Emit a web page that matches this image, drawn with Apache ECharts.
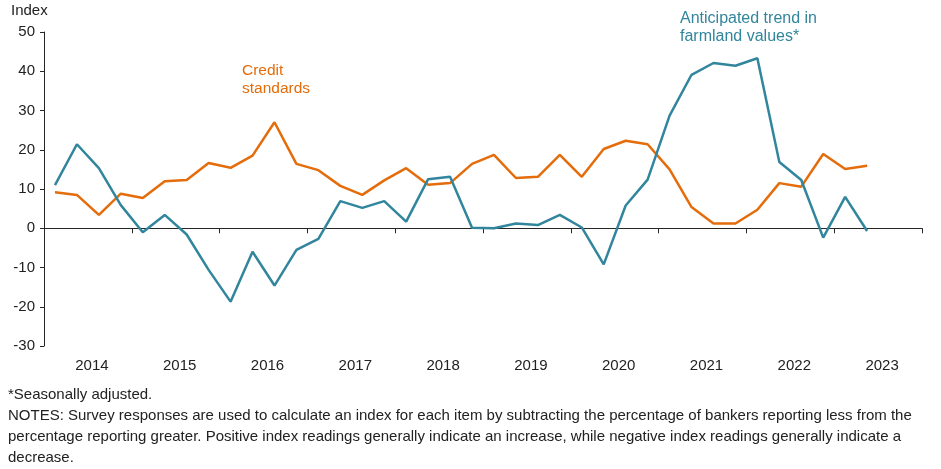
<!DOCTYPE html>
<html>
<head>
<meta charset="utf-8">
<script src="https://cdn.jsdelivr.net/npm/echarts@6/dist/echarts.min.js"></script>
<style>
  html, body { margin: 0; padding: 0; background: #fff; }
  #chart { width: 941px; height: 469px; }
</style>
</head>
<body>
<div id="chart"></div>
<script>
// quarterly categories, 2014 Q1 .. 2023 Q4
const quarters = [
    '2014Q1','2014Q2','2014Q3','2014Q4','2015Q1','2015Q2','2015Q3','2015Q4',
    '2016Q1','2016Q2','2016Q3','2016Q4','2017Q1','2017Q2','2017Q3','2017Q4',
    '2018Q1','2018Q2','2018Q3','2018Q4','2019Q1','2019Q2','2019Q3','2019Q4',
    '2020Q1','2020Q2','2020Q3','2020Q4','2021Q1','2021Q2','2021Q3','2021Q4',
    '2022Q1','2022Q2','2022Q3','2022Q4','2023Q1','2023Q2','2023Q3','2023Q4'
]
const years = ['2014','2015','2016','2017','2018','2019','2020','2021','2022','2023']
const yTicks = [-30, -20, -10, 0, 10, 20, 30, 40, 50]

const creditStandards = [
    9.2, 8.5, 3.4, 8.8, 7.7, 12.0, 12.3, 16.6, 15.4, 18.5,
    27.0, 16.4, 14.8, 10.8, 8.5, 12.2, 15.3, 11.1, 11.5, 16.4,
    18.7, 12.8, 13.1, 18.7, 13.1, 20.2, 22.3, 21.4, 15.0, 5.4,
    1.2, 1.2, 4.7, 11.5, 10.6, 18.9, 15.1, 15.9
]
const farmlandTrend = [
    11.0, 21.4, 15.3, 5.9, -1.0, 3.4, -1.6, -10.6, -18.7, -6.0,
    -14.6, -5.5, -2.7, 6.9, 5.2, 6.9, 1.7, 12.5, 13.1, 0.1,
    0.0, 1.2, 0.8, 3.4, 0.2, -9.2, 5.8, 12.4, 28.7, 39.1,
    42.1, 41.4, 43.3, 16.9, 12.3, -2.4, 8.0, -0.7
]

const ORANGE = '#E46C0A'
const TEAL = '#31859C'
const TXT = '#222'
const FONT = 'Liberation Sans, Arial, sans-serif'

let chart = echarts.init(document.getElementById('chart'))

let option = {
    animation: false,
    textStyle: { fontFamily: FONT },
    grid: { left: 44, right: 19, top: 32, bottom: 123, containLabel: false },
    xAxis: [{
        type: 'category',
        data: quarters,
        boundaryGap: true,
        axisLine: { onZero: true, lineStyle: { color: '#262626', width: 1 } },
        axisTick: { show: true, interval: 3, length: 5, lineStyle: { color: '#262626' } },
        axisLabel: { show: false },
        splitLine: { show: false }
    }, {
        // year labels sit along the bottom, independent of the zero line
        type: 'category',
        data: years,
        position: 'bottom',
        boundaryGap: true,
        axisLine: { show: false, onZero: false },
        axisTick: { show: false },
        axisLabel: { color: TXT, fontSize: 15, fontFamily: FONT, margin: 12, padding: [0, 0, 0, 8] },
        splitLine: { show: false }
    }],
    yAxis: {
        type: 'value',
        min: yTicks[0],
        max: yTicks[yTicks.length - 1],
        interval: 10,
        axisLine: { show: true, lineStyle: { color: '#262626', width: 1 } },
        axisTick: { show: true, length: 4, lineStyle: { color: '#262626' } },
        axisLabel: { color: TXT, fontSize: 15, fontFamily: FONT, margin: 9 },
        splitLine: { show: false }
    },
    series: [{
        name: 'Credit standards',
        type: 'line',
        data: creditStandards,
        xAxisIndex: 0,
        showSymbol: false,
        lineStyle: { color: ORANGE, width: 2.5 },
        itemStyle: { color: ORANGE }
    }, {
        name: 'Anticipated trend in farmland values*',
        type: 'line',
        data: farmlandTrend,
        xAxisIndex: 0,
        showSymbol: false,
        lineStyle: { color: TEAL, width: 2.5 },
        itemStyle: { color: TEAL }
    }],
    graphic: [
        { type: 'text', left: 11, top: 3, style: { text: 'Index', fill: TXT, font: '15px ' + FONT } },
        { type: 'text', left: 242, top: 62, style: { text: 'Credit\nstandards', fill: ORANGE, font: '15.5px ' + FONT, lineHeight: 18 } },
        { type: 'text', left: 680, top: 10, style: { text: 'Anticipated trend in\nfarmland values*', fill: TEAL, font: '16px ' + FONT, lineHeight: 18 } },
        { type: 'text', left: 8, top: 387, style: { text: '*Seasonally adjusted.', fill: TXT, font: '15px ' + FONT } },
        { type: 'text', left: 8, top: 408, style: { text: 'NOTES: Survey responses are used to calculate an index for each item by subtracting the percentage of bankers reporting less from the', fill: TXT, font: '15px ' + FONT } },
        { type: 'text', left: 8, top: 429, style: { text: 'percentage reporting greater. Positive index readings generally indicate an increase, while negative index readings generally indicate a', fill: TXT, font: '15px ' + FONT } },
        { type: 'text', left: 8, top: 450, style: { text: 'decrease.', fill: TXT, font: '15px ' + FONT } }
    ]
}

chart.setOption(option)
</script>
</body>
</html>
